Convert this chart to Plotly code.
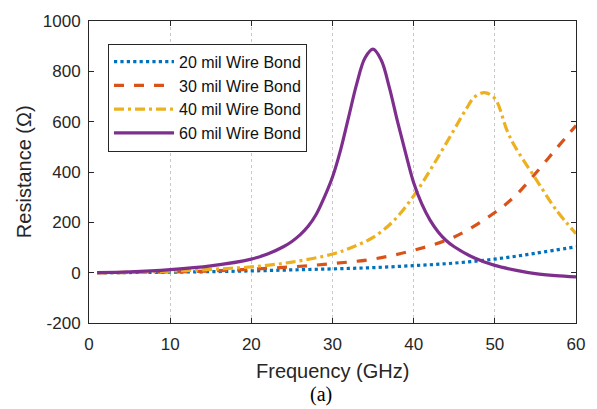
import plotly.graph_objects as go

# Frequency (GHz) sample points
freq_20 = [1, 5, 10, 15, 20, 25, 30, 35, 40, 45, 50, 55, 60]
res_20 = [0, 0.5, 2, 4, 7, 11, 15, 20, 28, 38, 54, 77, 103]

freq_30 = [1, 5, 10, 15, 20, 25, 30, 35, 40, 45, 50, 52.5, 55, 57.5, 60]
res_30 = [0, 1, 3, 7, 14, 23, 36, 54, 89, 142, 239, 305, 394, 490, 585]

freq_40 = [1, 5, 10, 15, 20, 25, 30, 32.5, 35, 37.5, 40, 42.5, 45, 46.5, 47.5, 48.7,
           50, 51.5, 52.5, 55, 57.5, 60]
res_40 = [0, 1, 6, 13, 23, 42, 74, 102, 140, 205, 305, 432, 569, 652, 698, 715,
          692, 565, 500, 375, 252, 155]

freq_60 = [1, 5, 10, 15, 20, 22, 24, 25, 26, 27, 28, 29, 30, 31, 32, 33, 34, 35,
           36, 37, 38, 39, 40, 41, 42, 43, 44, 45, 47.5, 50, 52.5, 55, 57.5, 60]
res_60 = [0, 3, 12, 27, 54, 74, 104, 124, 150, 184, 232, 300, 380, 488, 620, 752, 853, 888,
          845, 736, 602, 476, 357, 273, 210, 163, 128, 103, 58, 29, 10, -4, -12, -17]

names = ["20 mil Wire Bond", "30 mil Wire Bond", "40 mil Wire Bond", "60 mil Wire Bond"]
colors = ["#0072BD", "#D95319", "#EDB120", "#7E2F8E"]
dashes = ["dot", "10px,10px", "10px,4px,3px,4px", "solid"]

xticks = [0, 10, 20, 30, 40, 50, 60]
yticks = [-200, 0, 200, 400, 600, 800, 1000]

axis_col = "#262626"
font_fam = "Liberation Sans, Arial, sans-serif"

fig = go.Figure()
series = [(freq_20, res_20), (freq_30, res_30), (freq_40, res_40), (freq_60, res_60)]
for (fx, fy), nm, c, d in zip(series, names, colors, dashes):
    fig.add_trace(go.Scatter(
        x=fx, y=fy, mode="lines", name=nm,
        line=dict(color=c, width=3.2, dash=d, shape="spline", smoothing=1.0),
    ))

fig.update_layout(
    width=597, height=409,
    margin=dict(l=89, r=20, t=14, b=86),
    paper_bgcolor="white", plot_bgcolor="white",
    font=dict(family=font_fam, size=17, color=axis_col),
    showlegend=True,
    legend=dict(
        x=0.039, y=0.925, xanchor="left", yanchor="top",
        bgcolor="white", bordercolor=axis_col, borderwidth=1,
        font=dict(size=16, color="#111111"),
        itemwidth=60, tracegroupgap=0,
    ),
    xaxis=dict(
        range=[0, 60], tickvals=xticks, ticktext=[str(v) for v in xticks],
        ticks="inside", ticklen=5, tickcolor=axis_col, tickwidth=1,
        showline=True, linecolor=axis_col, linewidth=1, mirror="ticks",
        showgrid=True, gridcolor="#c8c8c8", gridwidth=1, griddash="dot",
        zeroline=False, ticklabelstandoff=6,
    ),
    yaxis=dict(
        range=[-200, 1000], tickvals=yticks, ticktext=[str(v) for v in yticks],
        ticks="inside", ticklen=5, tickcolor=axis_col, tickwidth=1,
        showline=True, linecolor=axis_col, linewidth=1, mirror="ticks",
        showgrid=False, zeroline=False, ticklabelstandoff=4,
    ),
    annotations=[
        dict(text="Resistance (Ω)", xref="paper", yref="paper", x=-0.1332, y=0.5,
             xanchor="center", yanchor="middle", textangle=-90, showarrow=False,
             font=dict(size=20, family=font_fam, color=axis_col)),
        dict(text="Frequency (GHz)", xref="paper", yref="paper", x=0.5, y=-0.1586,
             xanchor="center", yanchor="middle", showarrow=False,
             font=dict(size=20, family=font_fam, color=axis_col)),
        dict(text="(a)", xref="paper", yref="paper", x=(321.5 - 89) / 488, y=-0.236,
             xanchor="center", yanchor="middle", showarrow=False,
             font=dict(size=20, family="Liberation Serif, Times New Roman, serif", color="black")),
    ],
)

fig.write_html("out.html")
